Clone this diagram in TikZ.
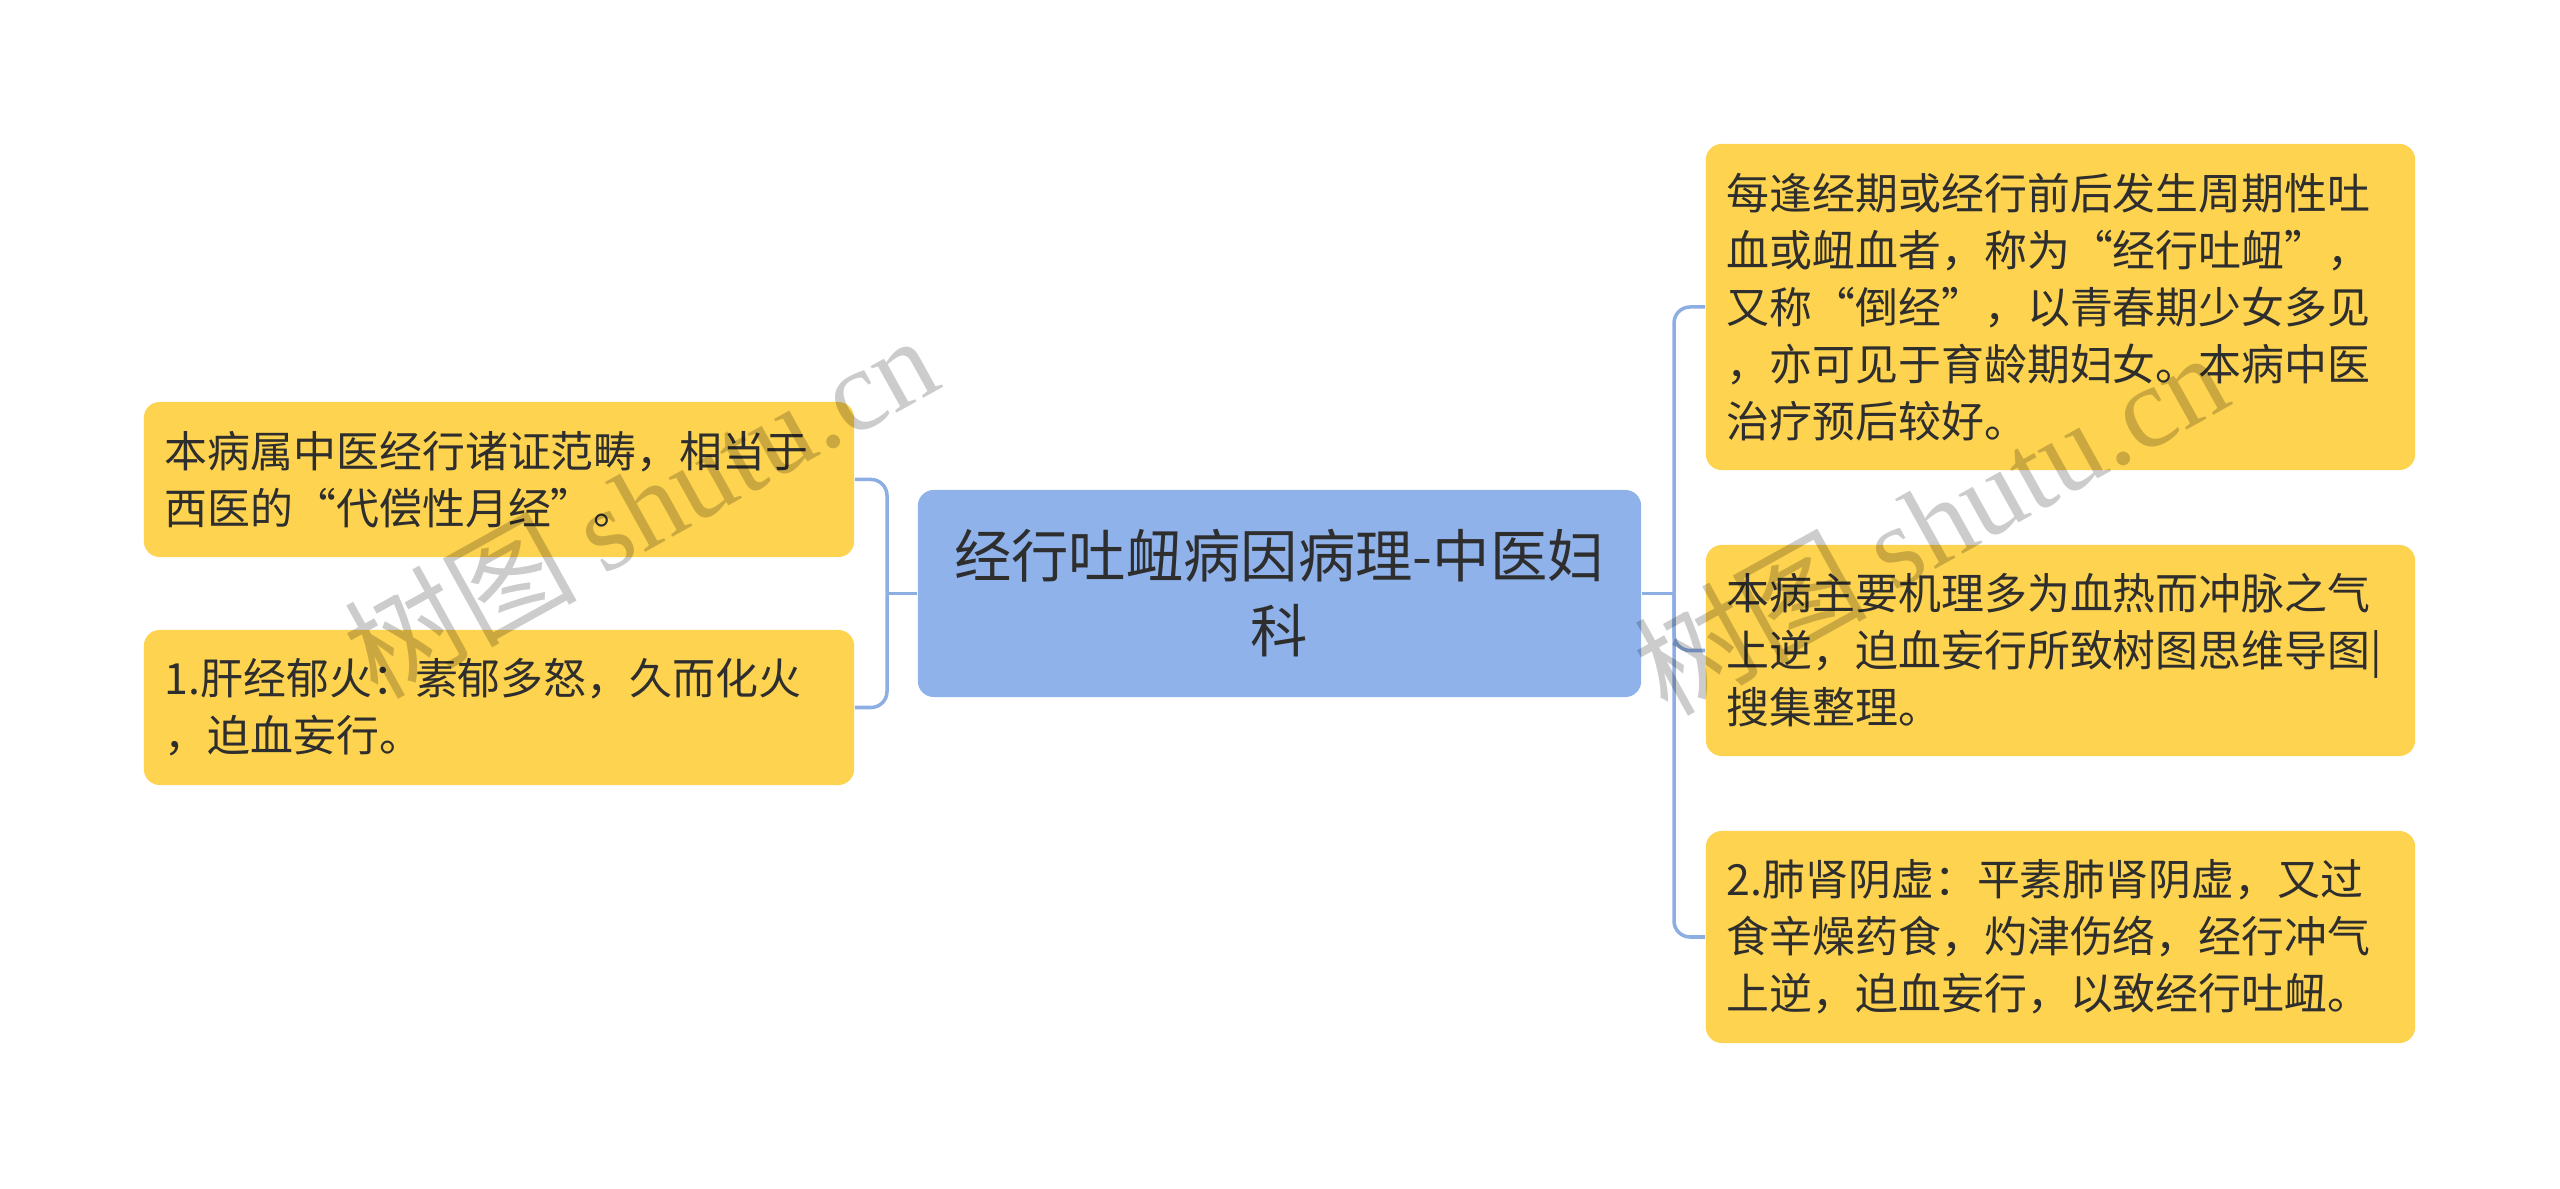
\documentclass[tikz,border=0pt]{standalone}
\usepackage{fontspec}
\setmainfont{Noto Sans CJK SC}
\newfontfamily\wmserif{Liberation Serif}
\newfontfamily\wmcjk{Noto Sans CJK SC}
\definecolor{boxyellow}{HTML}{FDD34F}
\definecolor{rootblue}{HTML}{8FB2EA}
\definecolor{linkblue}{HTML}{8DAEE3}
\definecolor{txt}{HTML}{2E2E2E}
\tikzset{
  ybox/.style={draw=none, fill=boxyellow, rounded corners=0.16cm, text=txt,
    align=left, inner xsep=0.21cm, inner ysep=0pt,
    font=\fontsize{12.2pt}{16.2pt}\selectfont},
  rootbox/.style={draw=none, fill=rootblue, rounded corners=0.16cm, text=txt,
    align=center, inner sep=0pt,
    font=\fontsize{16.3pt}{21.3pt}\selectfont},
  conn/.style={draw=linkblue, line width=1pt, rounded corners=0.16cm},
  wm/.style={text=black, text opacity=0.2, font=\fontsize{33pt}{33pt}\selectfont}
}
\begin{document}
\begin{tikzpicture}[x=0.01cm,y=-0.01cm]
\useasboundingbox (0,0) rectangle (2560,1189);
% root
\node[rootbox, minimum width=7.23cm, minimum height=2.07cm] (root) at (1279.5,593.5)
  {经行吐衄病因病理-中医妇\\科};
% left
\node[ybox, text width=6.68cm, minimum height=1.55cm] (l1) at (499,479.5)
  {本病属中医经行诸证范畴，相当于\\西医的“代偿性月经”。};
\node[ybox, text width=6.68cm, minimum height=1.55cm] (l2) at (499,707.5)
  {1.肝经郁火：素郁多怒，久而化火\\，迫血妄行。};
% right
\node[ybox, text width=6.67cm, minimum height=3.26cm] (r1) at (2060.5,307)
  {每逢经期或经行前后发生周期性吐\\血或衄血者，称为“经行吐衄”，\\又称“倒经”，以青春期少女多见\\，亦可见于育龄期妇女。本病中医\\治疗预后较好。};
\node[ybox, text width=6.67cm, minimum height=2.11cm] (r2) at (2060.5,650.5)
  {本病主要机理多为血热而冲脉之气\\上逆，迫血妄行所致树图思维导图|\\搜集整理。};
\node[ybox, text width=6.67cm, minimum height=2.12cm] (r3) at (2060.5,937)
  {2.肺肾阴虚：平素肺肾阴虚，又过\\食辛燥药食，灼津伤络，经行冲气\\上逆，迫血妄行，以致经行吐衄。};
% junctions
\coordinate (lj) at (887,593.5);
\coordinate (rj) at (1674,593.5);
\draw[conn] (root.west) -- (lj);
\draw[conn] (l1.east) -| (lj);
\draw[conn] (l2.east) -| (lj);
\draw[conn] (root.east) -- (rj);
\draw[conn] (r1.west) -| (rj);
\draw[conn] (r2.west) -| (rj);
\draw[conn] (r3.west) -| (rj);
% watermarks
\node[wm, rotate=29] (wm1) at (640,505) {\wmcjk 树图 \wmserif shutu.cn};
\node[wm, rotate=29] (wm2) at (1930,522) {\wmcjk 树图 \wmserif shutu.cn};
\end{tikzpicture}
\end{document}
